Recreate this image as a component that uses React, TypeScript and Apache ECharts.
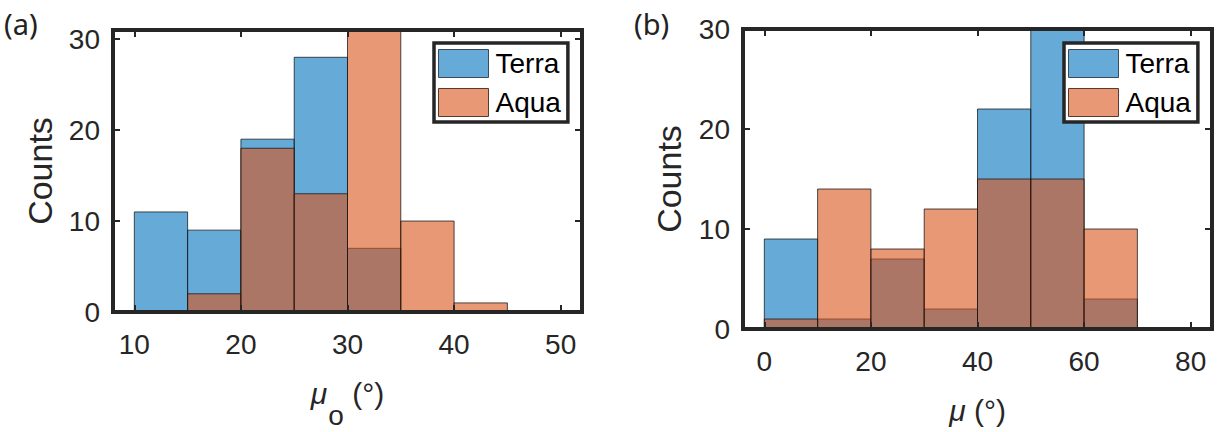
import React, { useEffect, useRef } from 'react';
import * as echarts from 'echarts';

// Histogram bin edges and counts, panel (a): mu_o
const edgesA = [10, 15, 20, 25, 30, 35, 40, 45];
const terraA = [11, 9, 19, 28, 7, 0, 0];
const aquaA = [0, 2, 18, 13, 31, 10, 1];

// Histogram bin edges and counts, panel (b): mu
const edgesB = [0, 10, 20, 30, 40, 50, 60, 70];
const terraB = [9, 1, 7, 2, 22, 30, 3];
const aquaB = [1, 14, 8, 12, 15, 15, 10];

// Tick positions
const ticksXA = [10, 20, 30, 40, 50];
const ticksXB = [0, 20, 40, 60, 80];
const ticksY = [0, 10, 20, 30];

const INK = '#262626';
const FONT = '"Liberation Sans", Arial, Helvetica, sans-serif';
const TERRA = 'rgba(0,114,189,0.6)';
const AQUA = 'rgba(217,83,25,0.6)';
const EDGE = 'rgba(20,20,20,0.75)';

const toBins = (edges: number[], counts: number[]) =>
  counts.map((c, i) => [edges[i], edges[i + 1], c]);

const renderBin = (_params: any, api: any) => {
  const x0 = api.value(0);
  const x1 = api.value(1);
  const c = api.value(2);
  if (!c) return { type: 'group', children: [] };
  const p0 = api.coord([x0, c]);
  const p1 = api.coord([x1, 0]);
  return {
    type: 'rect',
    shape: { x: p0[0], y: p0[1], width: p1[0] - p0[0], height: p1[1] - p0[1] },
    style: { fill: api.visual('color'), stroke: EDGE, lineWidth: 1 },
  };
};

const axisLine = { show: true, onZero: false, lineStyle: { color: INK, width: 4, cap: 'square' } };
const tick = (values: number[]) => ({
  show: true,
  inside: true,
  length: 7,
  lineStyle: { color: INK, width: 2 },
  customValues: values,
});

// Axis-title rich text: italic mu, lowered subscript, plain "(°)"
const titleRich = {
  mu: { fontFamily: FONT, fontStyle: 'italic', fontSize: 30, lineHeight: 34, color: INK, verticalAlign: 'top' },
  sub: { fontFamily: FONT, fontSize: 28, lineHeight: 34, color: INK, verticalAlign: 'top', padding: [23, 0, 0, 1] },
  t: { fontFamily: FONT, fontSize: 30, lineHeight: 34, color: INK, verticalAlign: 'top' },
};

const xPair = (grid: number, min: number, max: number, ticks: number[], name: string, gap: number) => [
  {
    type: 'value', gridIndex: grid, position: 'bottom', min, max, z: 10,
    axisLine, axisTick: tick(ticks),
    axisLabel: { customValues: ticks, margin: 18, fontSize: 28, color: INK, fontFamily: FONT },
    splitLine: { show: false },
    name, nameLocation: 'middle', nameGap: gap,
    nameTextStyle: { rich: titleRich },
  },
  {
    type: 'value', gridIndex: grid, position: 'top', min, max, z: 10,
    axisLine, axisTick: tick(ticks), axisLabel: { show: false }, splitLine: { show: false },
  },
];

const yPair = (grid: number, max: number, gap: number) => [
  {
    type: 'value', gridIndex: grid, position: 'left', min: 0, max, z: 10,
    axisLine, axisTick: tick(ticksY),
    axisLabel: { customValues: ticksY, margin: 13, fontSize: 28, color: INK, fontFamily: FONT },
    splitLine: { show: false },
    name: 'Counts', nameLocation: 'middle', nameGap: gap, nameRotate: 90,
    nameTextStyle: { fontFamily: FONT, fontSize: 34, color: INK },
  },
  {
    type: 'value', gridIndex: grid, position: 'right', min: 0, max, z: 10,
    axisLine, axisTick: tick(ticksY), axisLabel: { show: false }, splitLine: { show: false },
  },
];

const legendAt = (left: number) => ({
  orient: 'vertical',
  left,
  top: 43,
  selectedMode: false,
  backgroundColor: '#ffffff',
  borderColor: INK,
  borderWidth: 3.5,
  borderRadius: 0,
  padding: [6, 7, 5, 4],
  itemWidth: 50,
  itemHeight: 28,
  itemGap: 10,
  textStyle: { fontFamily: FONT, fontSize: 28, color: '#000', padding: [0, 0, 0, 2] },
  z: 20,
  data: [
    { name: 'Terra', icon: 'rect', itemStyle: { color: TERRA, borderColor: '#3a4a5a', borderWidth: 1 } },
    { name: 'Aqua', icon: 'rect', itemStyle: { color: AQUA, borderColor: '#5a3a2a', borderWidth: 1 } },
  ],
});

export default function App() {
  const ref = useRef<HTMLDivElement>(null);

  useEffect(() => {
    if (!ref.current) return;
    const chart = echarts.init(ref.current, undefined, { renderer: 'svg' });
    chart.setOption({
      animation: false,
      backgroundColor: '#ffffff',
      grid: [
        { left: 113, top: 30, width: 469, height: 282, outerBoundsMode: 'none' },
        { left: 743, top: 29, width: 469, height: 300, outerBoundsMode: 'none' },
      ],
      xAxis: [
        ...xPair(0, 8, 52, ticksXA, '{mu|μ}{sub|o}{t| (°)}', 66),
        ...xPair(1, -4, 84, ticksXB, '{mu|μ}{t| (°)}', 66),
      ],
      yAxis: [...yPair(0, 31, 56), ...yPair(1, 30, 57)],
      legend: [legendAt(434), legendAt(1064)],
      graphic: [
        { type: 'text', left: 4, top: 9, style: { text: '(a)', font: '29px "Noto Sans"', fill: '#222' } },
        { type: 'text', left: 634, top: 9, style: { text: '(b)', font: '29px "Noto Sans"', fill: '#222' } },
      ],
      series: [
        { type: 'custom', name: 'Terra', xAxisIndex: 0, yAxisIndex: 0, renderItem: renderBin, itemStyle: { color: TERRA }, encode: { x: [0, 1], y: 2 }, data: toBins(edgesA, terraA) },
        { type: 'custom', name: 'Aqua', xAxisIndex: 0, yAxisIndex: 0, renderItem: renderBin, itemStyle: { color: AQUA }, encode: { x: [0, 1], y: 2 }, data: toBins(edgesA, aquaA) },
        { type: 'custom', name: 'Terra', xAxisIndex: 2, yAxisIndex: 2, renderItem: renderBin, itemStyle: { color: TERRA }, encode: { x: [0, 1], y: 2 }, data: toBins(edgesB, terraB) },
        { type: 'custom', name: 'Aqua', xAxisIndex: 2, yAxisIndex: 2, renderItem: renderBin, itemStyle: { color: AQUA }, encode: { x: [0, 1], y: 2 }, data: toBins(edgesB, aquaB) },
      ],
    });
    return () => chart.dispose();
  }, []);

  return (
    <div
      ref={ref}
      style={{ position: 'fixed', left: 0, top: 0, width: 1225, height: 432, background: '#fff' }}
    />
  );
}
